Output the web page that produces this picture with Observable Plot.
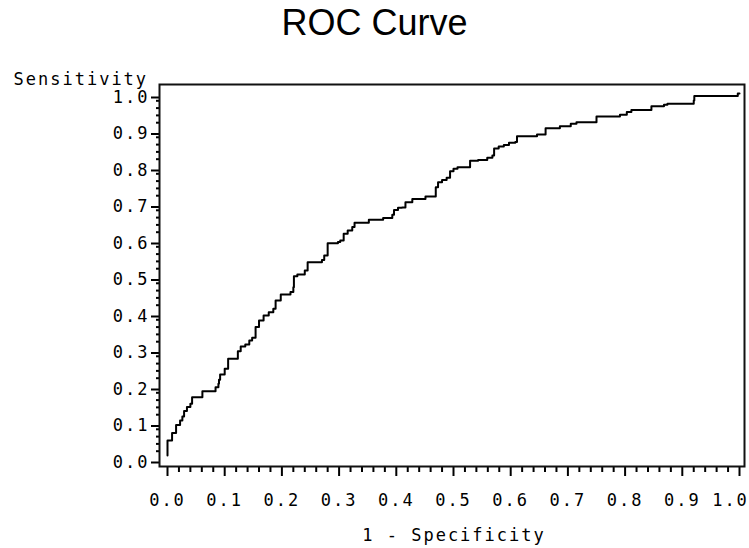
<!DOCTYPE html>
<html>
<head>
<meta charset="utf-8">
<script src="https://cdn.jsdelivr.net/npm/d3@7"></script>
<script src="https://cdn.jsdelivr.net/npm/@observablehq/plot@0.6"></script>
<style>
  body { margin: 0; background: #fff; }
  #wrap { position: relative; width: 749px; height: 548px; }
  #title { position: absolute; left: 0; top: 5px; width: 749px; text-align: center;
           font: 36px "Liberation Sans", Arial, sans-serif; line-height: 1; color: #000; }
  #chart svg text { letter-spacing: 2px; }
</style>
</head>
<body>
<div id="wrap">
  <div id="title">ROC Curve</div>
  <div id="chart"></div>
</div>
<script>
// ROC curve vertices (1 - specificity, sensitivity)
const fpr = [
  0.000, 0.000, 0.008, 0.008, 0.015, 0.015, 0.022, 0.022, 0.026, 0.029,
  0.029, 0.034, 0.034, 0.040, 0.043, 0.043, 0.061, 0.061, 0.084, 0.084,
  0.089, 0.090, 0.092, 0.100, 0.100, 0.106, 0.106, 0.122, 0.123, 0.128,
  0.136, 0.143, 0.148, 0.154, 0.160, 0.168, 0.177, 0.185, 0.189, 0.198,
  0.206, 0.215, 0.220, 0.221, 0.227, 0.238, 0.240, 0.245, 0.245, 0.262,
  0.270, 0.274, 0.280, 0.298, 0.302, 0.308, 0.315, 0.323, 0.327, 0.352,
  0.352, 0.374, 0.377, 0.389, 0.393, 0.396, 0.403, 0.410, 0.416, 0.425,
  0.428, 0.448, 0.451, 0.467, 0.469, 0.473, 0.480, 0.488, 0.494, 0.500,
  0.507, 0.523, 0.529, 0.543, 0.559, 0.568, 0.571, 0.579, 0.588, 0.597,
  0.608, 0.611, 0.643, 0.646, 0.658, 0.661, 0.682, 0.686, 0.702, 0.705,
  0.715, 0.747, 0.750, 0.786, 0.791, 0.798, 0.803, 0.811, 0.843, 0.846,
  0.868, 0.874, 0.914, 0.920, 0.921, 0.990, 0.997, 1.000
];
const tpr = [
  0.008, 0.049, 0.049, 0.070, 0.070, 0.092, 0.092, 0.104, 0.115, 0.115,
  0.130, 0.130, 0.141, 0.150, 0.159, 0.168, 0.168, 0.184, 0.184, 0.195,
  0.205, 0.216, 0.230, 0.230, 0.246, 0.246, 0.273, 0.273, 0.294, 0.307,
  0.312, 0.323, 0.331, 0.360, 0.378, 0.392, 0.401, 0.410, 0.433, 0.449,
  0.449, 0.456, 0.469, 0.499, 0.504, 0.504, 0.515, 0.515, 0.538, 0.538,
  0.544, 0.556, 0.590, 0.593, 0.597, 0.616, 0.625, 0.634, 0.646, 0.647,
  0.654, 0.654, 0.659, 0.659, 0.668, 0.681, 0.687, 0.688, 0.702, 0.702,
  0.711, 0.711, 0.718, 0.718, 0.743, 0.757, 0.763, 0.769, 0.787, 0.794,
  0.798, 0.798, 0.816, 0.818, 0.824, 0.830, 0.849, 0.855, 0.859, 0.865,
  0.867, 0.883, 0.883, 0.888, 0.888, 0.905, 0.905, 0.910, 0.910, 0.917,
  0.921, 0.921, 0.937, 0.937, 0.942, 0.942, 0.949, 0.955, 0.955, 0.965,
  0.969, 0.972, 0.972, 0.981, 0.993, 0.993, 1.000, 1.000
];

const majorTicks = [0, 0.1, 0.2, 0.3, 0.4, 0.5, 0.6, 0.7, 0.8, 0.9, 1.0];
const tickLabels = ["0.0", "0.1", "0.2", "0.3", "0.4", "0.5", "0.6", "0.7", "0.8", "0.9", "1.0"];
const minorTicks = [
  0.02, 0.04, 0.06, 0.08, 0.12, 0.14, 0.16, 0.18, 0.22, 0.24, 0.26, 0.28,
  0.32, 0.34, 0.36, 0.38, 0.42, 0.44, 0.46, 0.48, 0.52, 0.54, 0.56, 0.58,
  0.62, 0.64, 0.66, 0.68, 0.72, 0.74, 0.76, 0.78, 0.82, 0.84, 0.86, 0.88,
  0.92, 0.94, 0.96, 0.98
];
const xTitle = "1 - Specificity";
const yTitle = "Sensitivity";

const table = fpr.map((x, i) => ({x, y: tpr[i]}));
const fmt = d => tickLabels[majorTicks.findIndex(t => Math.abs(t - d) < 1e-9)];
const fmtInner = d => (d === 1 ? "" : fmt(d));
const mono = "'DejaVu Sans Mono', 'Liberation Mono', monospace";
const xLast = majorTicks.slice(-1);

const chart = Plot.plot({
  width: 749,
  height: 548,
  marginLeft: 159,
  marginRight: 5,
  marginTop: 84,
  marginBottom: 82,
  style: {fontFamily: mono, fontSize: "17px", color: "#000", background: "#fff"},
  x: {domain: [0, 1], insetLeft: 8, insetRight: 5},
  y: {domain: [0, 1], insetTop: 9, insetBottom: 8},
  marks: [
    Plot.axisX(minorTicks, {tickSize: 6, tickFormat: () => "", label: null, strokeWidth: 2}),
    Plot.axisX(majorTicks, {tickSize: 10, tickPadding: 17, tickFormat: fmtInner, label: null, strokeWidth: 2, textStroke: "none"}),
    Plot.axisX(xLast, {tickSize: 0, tickPadding: 27, tickFormat: fmt, label: null, strokeWidth: 0, dx: -9}),
    Plot.axisY(minorTicks, {tickSize: 3, tickFormat: () => "", label: null, strokeWidth: 2}),
    Plot.axisY(majorTicks, {tickSize: 8, tickPadding: 2, tickFormat: fmt, label: null, strokeWidth: 2, dy: 4}),
    Plot.frame({stroke: "#111", strokeWidth: 2}),
    Plot.line(table, {x: "x", y: "y", curve: "step-after", stroke: "#000", strokeWidth: 2}),
    Plot.text([xTitle], {frameAnchor: "bottom", lineAnchor: "bottom", dx: 2, dy: 74, fontFamily: mono, fontSize: 17}),
    Plot.text([yTitle], {frameAnchor: "top-left", textAnchor: "start", lineAnchor: "bottom", dx: -146, dy: 0, fontFamily: mono, fontSize: 17})
  ]
});
document.getElementById("chart").appendChild(chart);
</script>
</body>
</html>
